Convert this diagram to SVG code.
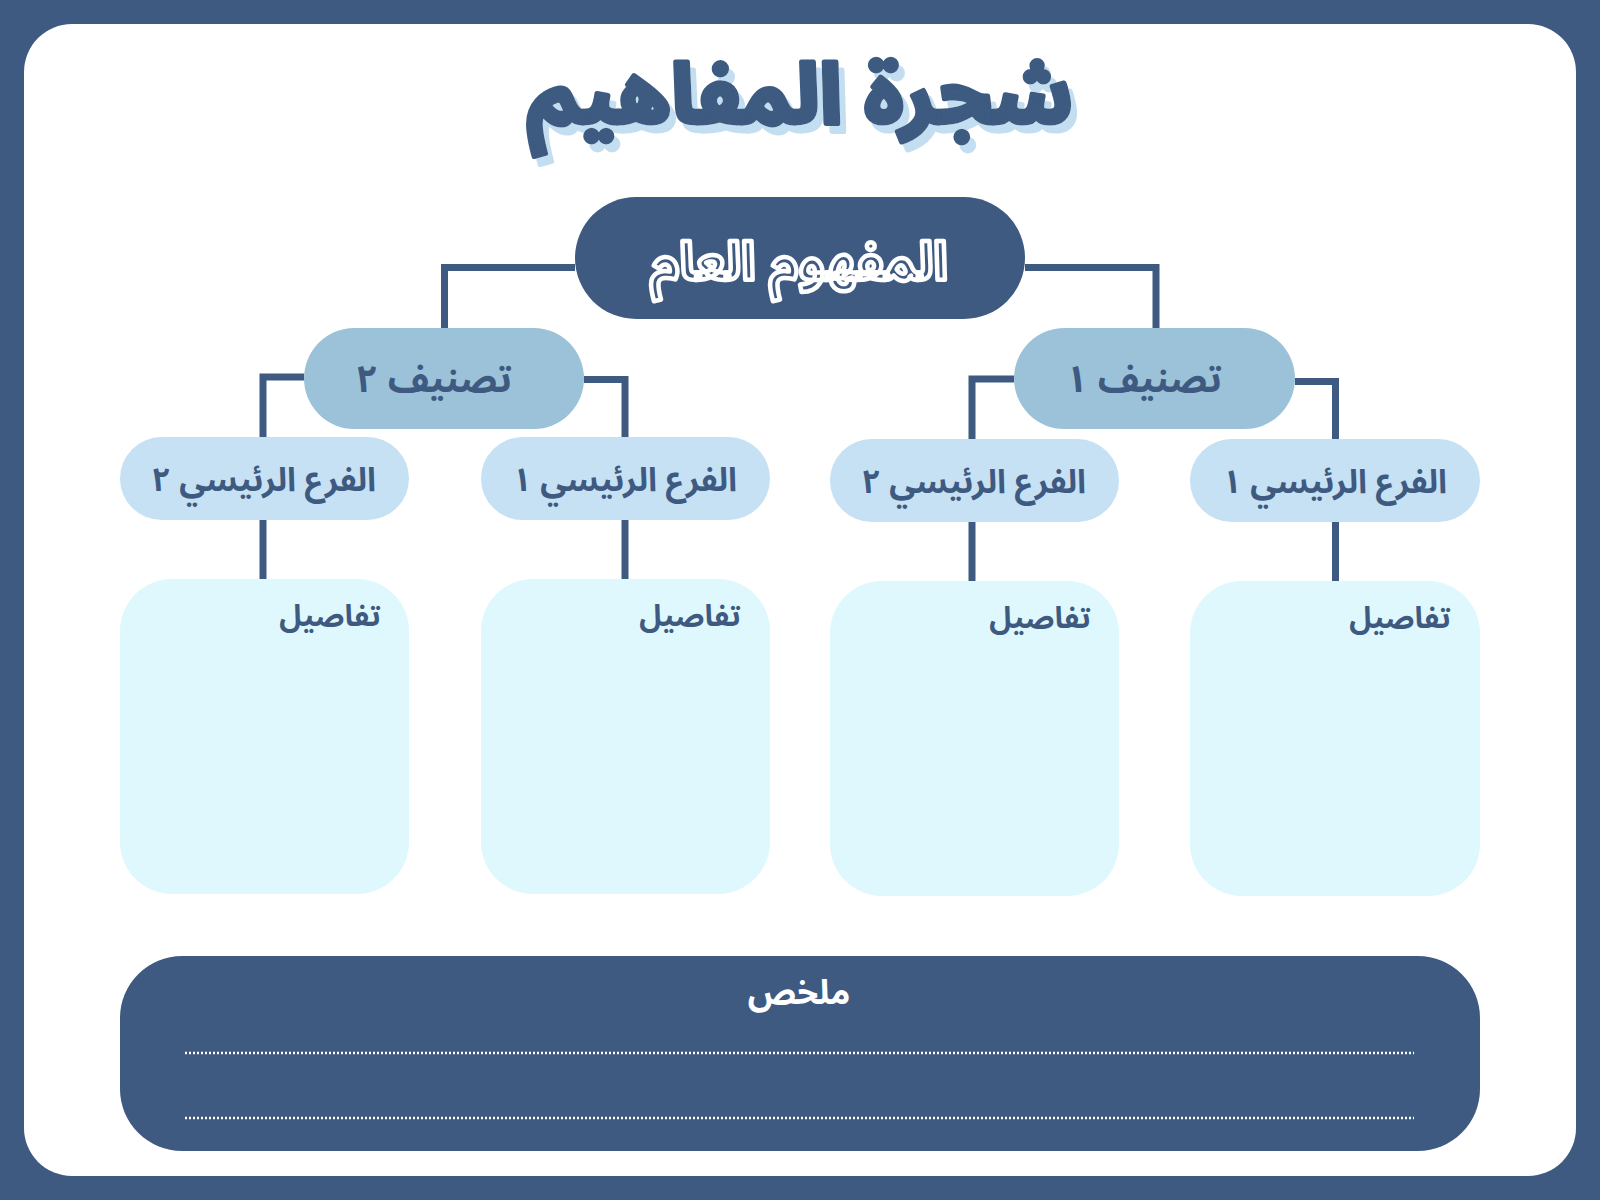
<svg xmlns="http://www.w3.org/2000/svg" width="1600" height="1200" viewBox="0 0 1600 1200">
<defs>
<filter id="titleShadow" x="-10%" y="-30%" width="120%" height="160%">
<feDropShadow dx="6" dy="8" stdDeviation="0" flood-color="#c3ddf1" flood-opacity="1"/>
</filter>
</defs>
<style>
.ar{font-family:"Noto Sans Arabic","Noto Sans","DejaVu Sans",sans-serif;font-weight:bold;text-anchor:middle}
.dark{fill:#3e5a80}
.cat{fill:#9bc2d9}
.br{fill:#c6e1f3}
.det{fill:#dff8fd}
.con{fill:none;stroke:#3e5a80;stroke-width:7;stroke-linejoin:miter;stroke-linecap:butt}
.dtxt{font-size:30px;fill:#3e5a80}
.btxt{font-size:33px;fill:#3e5a80}
.ctxt{font-size:38px;fill:#3e5a80}
.dots{stroke:#ffffff;stroke-width:2.5;stroke-dasharray:2 2;fill:none}
</style>
<rect x="0" y="0" width="1600" height="1200" fill="#3e5a80"/>
<rect x="24" y="24" width="1552" height="1152" rx="48" fill="#ffffff"/>

<g id="title">
<text x="800" y="123" class="ar" font-size="84" fill="#3e5a80" stroke="#3e5a80" stroke-width="5" stroke-linejoin="round" filter="url(#titleShadow)">شجرة المفاهيم</text>
</g>

<g id="connectors">
<polyline class="con" points="575,267.5 444.5,267.5 444.5,329"/>
<polyline class="con" points="1025,267.5 1156,267.5 1156,329"/>
<polyline class="con" points="304,377 263,377 263,437"/>
<polyline class="con" points="584,379.5 625,379.5 625,437"/>
<polyline class="con" points="1014,379 972,379 972,439"/>
<polyline class="con" points="1295,381.5 1335.5,381.5 1335.5,439"/>
<line class="con" x1="263" y1="520" x2="263" y2="580"/>
<line class="con" x1="625" y1="518" x2="625" y2="580"/>
<line class="con" x1="972" y1="522" x2="972" y2="582"/>
<line class="con" x1="1335.5" y1="522" x2="1335.5" y2="582"/>
</g>

<g id="main">
<rect x="575" y="197" width="450" height="122" rx="61" class="dark"/>
<text x="799" y="280" class="ar" font-size="53" fill="#3e5a80" stroke="#ffffff" stroke-width="4.5" stroke-linejoin="round">المفهوم العام</text>
</g>

<g id="cat2">
<rect x="304" y="328" width="280" height="101" rx="50.5" class="cat"/>
<text x="434" y="392" class="ar ctxt">تصنيف ٢</text>
</g>
<g id="cat1">
<rect x="1014" y="328" width="281" height="101" rx="50.5" class="cat"/>
<text x="1144" y="392" class="ar ctxt">تصنيف ١</text>
</g>

<g id="branch-2a">
<rect x="120" y="437" width="289" height="83" rx="41.5" class="br"/>
<text x="264" y="491" class="ar btxt">الفرع الرئيسي ٢</text>
</g>
<g id="branch-1a">
<rect x="481" y="437" width="289" height="83" rx="41.5" class="br"/>
<text x="625" y="491" class="ar btxt">الفرع الرئيسي ١</text>
</g>
<g id="branch-2b">
<rect x="830" y="439" width="289" height="83" rx="41.5" class="br"/>
<text x="974" y="493" class="ar btxt">الفرع الرئيسي ٢</text>
</g>
<g id="branch-1b">
<rect x="1190" y="439" width="290" height="83" rx="41.5" class="br"/>
<text x="1335" y="493" class="ar btxt">الفرع الرئيسي ١</text>
</g>

<g id="details-1">
<rect x="120" y="579" width="289" height="315" rx="52" class="det"/>
<text x="330" y="626" class="ar dtxt">تفاصيل</text>
</g>
<g id="details-2">
<rect x="481" y="579" width="289" height="315" rx="52" class="det"/>
<text x="690" y="626" class="ar dtxt">تفاصيل</text>
</g>
<g id="details-3">
<rect x="830" y="581" width="289" height="315" rx="52" class="det"/>
<text x="1040" y="628" class="ar dtxt">تفاصيل</text>
</g>
<g id="details-4">
<rect x="1190" y="581" width="290" height="315" rx="52" class="det"/>
<text x="1400" y="628" class="ar dtxt">تفاصيل</text>
</g>

<g id="summary">
<rect x="120" y="956" width="1360" height="195" rx="62" class="dark"/>
<text x="799" y="1004" class="ar" font-size="34" fill="#ffffff">ملخص</text>
<line class="dots" x1="185" y1="1053" x2="1414" y2="1053"/>
<line class="dots" x1="185" y1="1118" x2="1414" y2="1118"/>
</g>
</svg>
